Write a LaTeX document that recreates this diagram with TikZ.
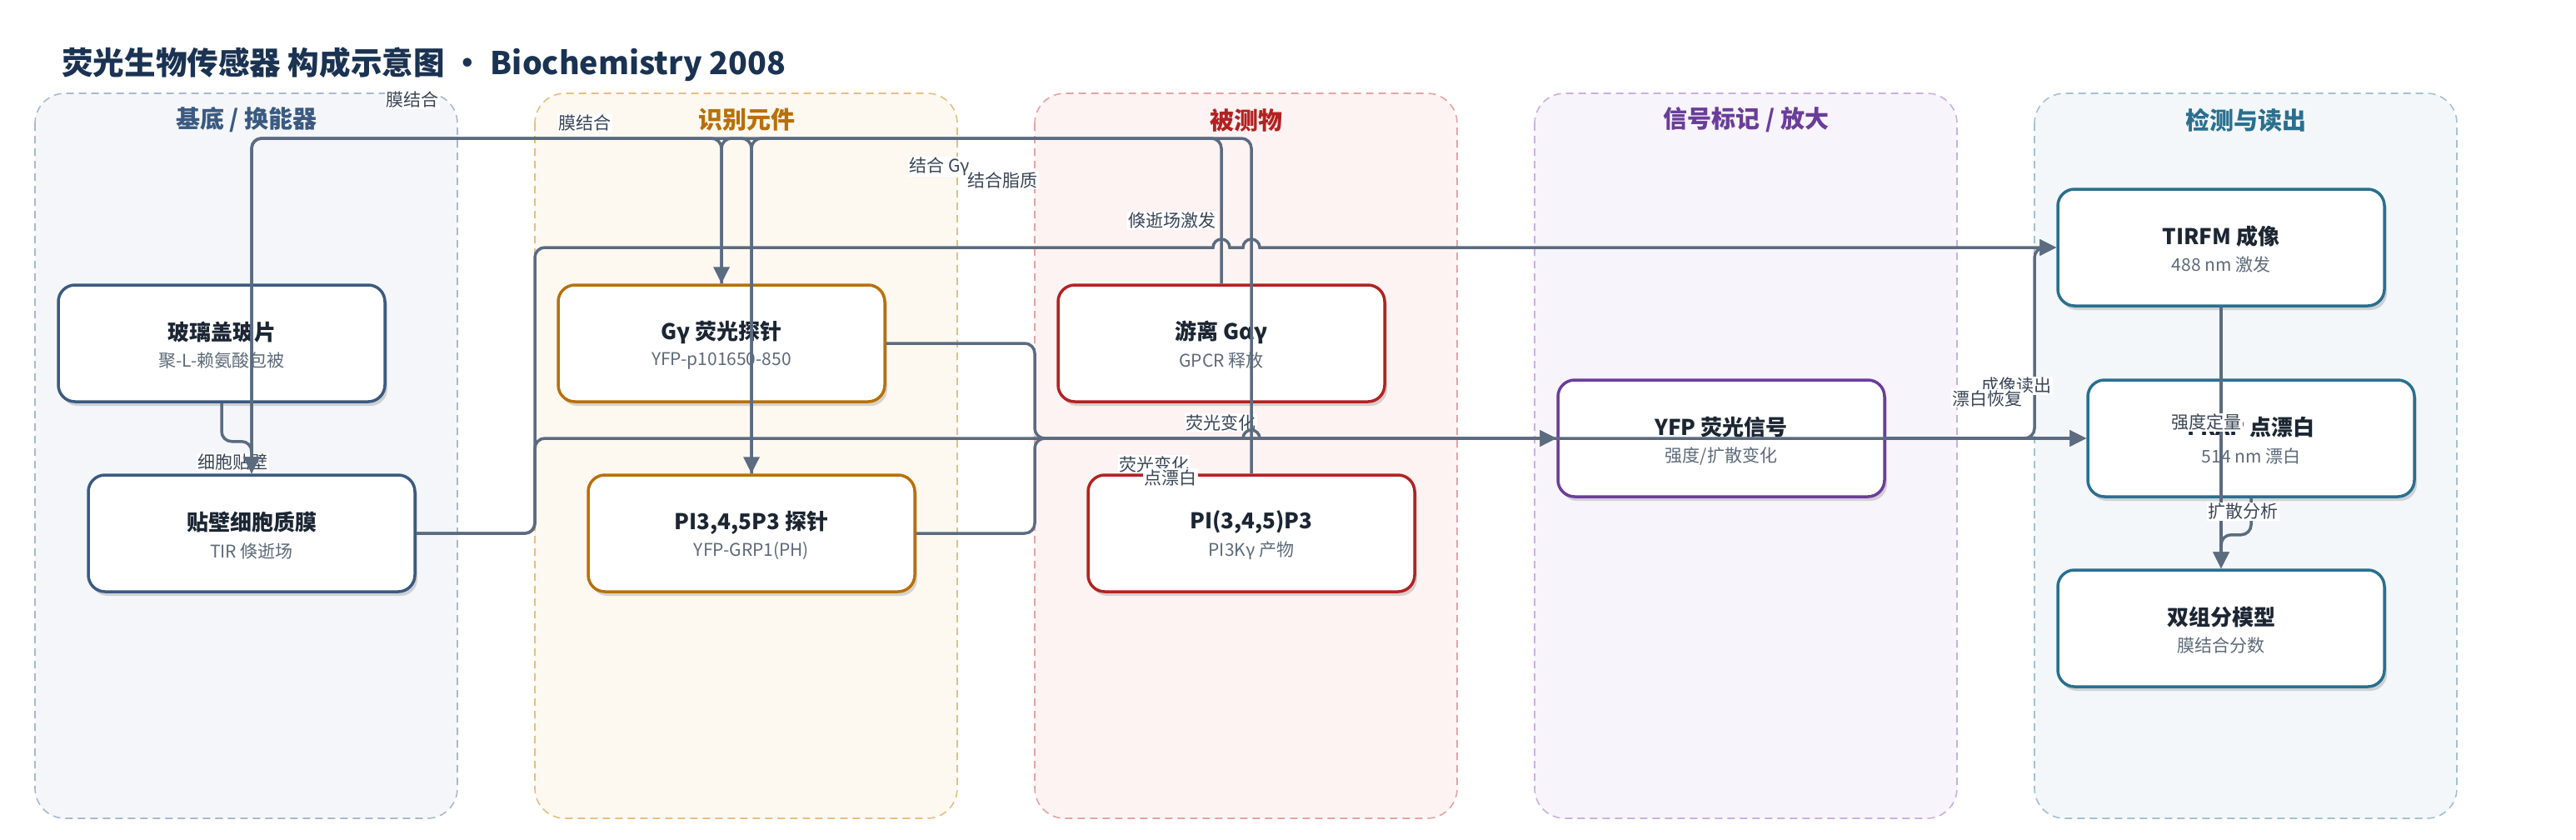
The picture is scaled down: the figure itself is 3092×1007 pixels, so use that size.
\documentclass[tikz,border=0pt]{standalone}
\usepackage{fontspec}
\setmainfont{Noto Sans CJK SC}
\usetikzlibrary{arrows.meta,shadows}
\definecolor{titlec}{HTML}{1B3352}
\definecolor{edgec}{HTML}{5B6B80}
\definecolor{lblc}{HTML}{3A4556}
\definecolor{ttlc}{HTML}{1C2633}
\definecolor{subc}{HTML}{5E6A7A}
\definecolor{lAf}{HTML}{F4F6FA}\definecolor{lAb}{HTML}{A9B9CD}\definecolor{lAc}{HTML}{3B5A80}
\definecolor{lBf}{HTML}{FDF8F0}\definecolor{lBb}{HTML}{E5BF82}\definecolor{lBc}{HTML}{B8700A}
\definecolor{lCf}{HTML}{FDF3F2}\definecolor{lCb}{HTML}{E6A3A3}\definecolor{lCc}{HTML}{B22222}
\definecolor{lDf}{HTML}{F7F4FB}\definecolor{lDb}{HTML}{C9B1DF}\definecolor{lDc}{HTML}{6A3D9A}
\definecolor{lEf}{HTML}{F3F7F9}\definecolor{lEb}{HTML}{A3C2D1}\definecolor{lEc}{HTML}{2A6F8F}
\tikzset{
  lane/.style={draw=#1, dash pattern=on 9pt off 6pt, line width=1.6pt, rounded corners=36pt},
  hdr/.style={font=\fontsize{29}{33}\selectfont\bfseries, text=#1, inner sep=0pt},
  box/.style={draw=#1, fill=white, line width=3.5pt, rounded corners=20pt,
    minimum width=392pt, minimum height=140pt,
    drop shadow={shadow xshift=3pt, shadow yshift=-5pt, opacity=0.15, fill=black}},
  ttl/.style={font=\fontsize{26}{30}\selectfont\bfseries, text=ttlc, inner sep=0pt},
  subt/.style={font=\fontsize{21}{25}\selectfont, text=subc, inner sep=0pt},
  conn/.style={draw=edgec, line width=3.5pt, rounded corners=12pt, -{Triangle[length=20pt,width=19pt]}},
  lbl/.style={fill=white, text=lblc, font=\fontsize{21}{24}\selectfont, inner sep=1.5pt}
}
\newcommand\mkbox[6]{%
  \node[box=#4] (#1) at (#2,#3) {};
  \node[ttl] (#1t) at (#2,#3-13) {#5};
  \node[subt] (#1s) at (#2,#3+21) {#6};
}
\begin{document}
\begin{tikzpicture}[x=1pt,y=-1pt]
\path[fill=white] (0,0) rectangle (3092,1007);
\useasboundingbox (0,0) rectangle (3092,1007);

\node[anchor=west, inner sep=0pt, font=\fontsize{37.6}{44}\selectfont\bfseries, text=titlec] (title) at (74,77)
  {荧光生物传感器 构成示意图 · Biochemistry 2008};

% lanes
\path[lane=lAb, fill=lAf] (42,112) rectangle (549,982);
\path[lane=lBb, fill=lBf] (642,112) rectangle (1149,982);
\path[lane=lCb, fill=lCf] (1242,112) rectangle (1749,982);
\path[lane=lDb, fill=lDf] (1842,112) rectangle (2349,982);
\path[lane=lEb, fill=lEf] (2442,112) rectangle (2949,982);
\node[hdr=lAc] (h1) at (296,144) {基底 / 换能器};
\node[hdr=lBc] (h2) at (896,144) {识别元件};
\node[hdr=lCc] (h3) at (1496,144) {被测物};
\node[hdr=lDc] (h4) at (2096,144) {信号标记 / 放大};
\node[hdr=lEc] (h5) at (2696,144) {检测与读出};

% nodes
\mkbox{n1}{266}{412}{lAc}{玻璃盖玻片}{聚-L-赖氨酸包被}
\mkbox{n2}{302}{640}{lAc}{贴壁细胞质膜}{TIR 倏逝场}
\mkbox{n3}{866}{412}{lBc}{Gγ 荧光探针}{YFP-p101650-850}
\mkbox{n4}{902}{640}{lBc}{PI3,4,5P3 探针}{YFP-GRP1(PH)}
\mkbox{n5}{1466}{412}{lCc}{游离 Gαγ}{GPCR 释放}
\mkbox{n6}{1502}{640}{lCc}{PI(3,4,5)P3}{PI3Kγ 产物}
\mkbox{n7}{2066}{526}{lDc}{YFP 荧光信号}{强度/扩散变化}
\mkbox{n8}{2666}{297}{lEc}{TIRFM 成像}{488 nm 激发}
\mkbox{n9}{2702}{526}{lEc}{FRAP 点漂白}{514 nm 漂白}
\mkbox{n10}{2666}{754}{lEc}{双组分模型}{膜结合分数}

% routing coordinates
\coordinate (top) at (0,166);
\coordinate (up) at (0,297);
\coordinate (mid) at (0,526);
\coordinate (xa) at (642,0);
\coordinate (xb) at (1242,0);
\coordinate (xc) at (2442,0);

% edges and labels
\draw[conn] (n1.south) -- ++(0,46) -| (n2.north);
\node[lbl] (L1) at (279,555) {细胞贴壁};

\draw[conn] (n3.east) -- (xb |- n3.east) -- (xb |- mid) -- (n7.west);
\node[lbl] (L8) at (1465,507) {荧光变化};
\draw[conn] (n4.east) -- (xb |- n4.east) -- (xb |- mid) -- (n7.west);
\node[lbl] (L9) at (1385,557) {荧光变化};

\draw[conn] (n2.east) -- (xa |- n2.east) -- (xa |- up) -- (1300,297) [sharp corners] -- (1456,297)
  arc[start angle=180, end angle=360, radius=10] -- (1492,297)
  arc[start angle=180, end angle=360, radius=10] -- (n8.west);
\node[lbl] (L6) at (1407,265) {倏逝场激发};
\draw[conn] (n2.east) -- (xa |- n2.east) -- (xa |- mid) -- (1300,526) [sharp corners] -- (1492,526)
  arc[start angle=180, end angle=360, radius=10] -- (n9.west);
\node[lbl] (L7) at (1405,573) {点漂白};

\draw[conn] (n3.north) -- (n3.north |- top) -- (n2.north |- top) -- (n2.north);
\node[lbl] (L2) at (495,120) {膜结合};
\draw[conn] (n4.north) -- (n4.north |- top) -- (n2.north |- top) -- (n2.north);
\node[lbl] (L3) at (702,148) {膜结合};
\draw[conn] (n5.north) -- (n5.north |- top) -- (n3.north |- top) -- (n3.north);
\node[lbl] (L4) at (1128,200) {结合 Gγ};
\draw[conn] (n6.north) -- (n6.north |- top) -- (n4.north |- top) -- (n4.north);
\node[lbl] (L5) at (1203,216) {结合脂质};

\draw[conn] (n7.east) -- (xc |- n7.east) -- (xc |- up) -- (n8.west);
\node[lbl] (L10) at (2420,463) {成像读出};
\draw[conn] (n7.east) -- (n9.west);
\node[lbl] (L11) at (2385,478) {漂白恢复};

\draw[conn] (n8.south) -- (n10.north);
\node[lbl] (L12) at (2648,507) {强度定量};
\draw[conn] (n9.south) -- ++(0,44) -| (n10.north);
\node[lbl] (L13) at (2692,614) {扩散分析};
\end{tikzpicture}
\end{document}
